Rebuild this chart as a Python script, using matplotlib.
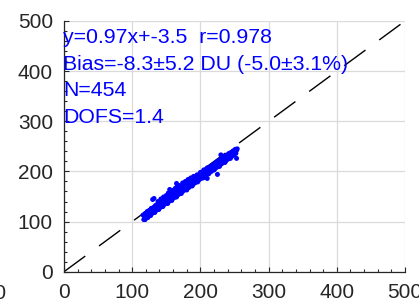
import matplotlib

matplotlib.use("Agg")
from matplotlib import pyplot as plt
from matplotlib.ticker import MultipleLocator

plt.rcParams["font.family"] = ["Liberation Sans", "DejaVu Sans"]
plt.rcParams["lines.scale_dashes"] = False

# scatter values (reference vs retrieved, DU)
band_hi_x = [116, 119, 122, 125, 128, 131, 134, 137, 140, 143, 146, 149, 152, 155, 158, 161,
             164, 167, 170, 173, 176, 179, 182, 185, 188, 191, 194, 197, 200, 203, 206, 209,
             212, 215, 218, 221, 224, 227, 230, 233, 236, 239, 242, 245, 248, 251, 254]
band_hi_y = [113, 116, 120, 122, 126, 128, 132, 135, 138, 141, 143, 147, 150, 152, 156, 158,
             162, 164, 167, 170, 173, 176, 179, 181, 184, 187, 190, 193, 195, 199, 202, 204,
             207, 210, 213, 216, 219, 222, 224, 227, 230, 233, 236, 238, 241, 244, 245]
band_lo_x = [117, 120, 123, 126, 129, 132, 135, 138, 141, 144, 147, 150, 153, 156, 159, 162,
             165, 168, 171, 174, 177, 180, 183, 186, 189, 192, 195, 198, 201, 204, 207, 210,
             213, 216, 219, 222, 225, 228, 231, 234, 237, 240, 243, 246, 249, 252]
band_lo_y = [104, 107, 110, 113, 116, 119, 122, 125, 128, 130, 134, 136, 139, 142, 145, 148,
             151, 154, 157, 160, 163, 165, 168, 171, 174, 177, 180, 183, 186, 189, 192, 195,
             197, 200, 203, 206, 209, 212, 215, 218, 221, 224, 227, 230, 233, 236]
band_mid_x = [118, 121, 124, 127, 130, 133, 136, 139, 142, 145, 148, 151, 154, 157, 160, 163,
              166, 169, 172, 175, 178, 181, 184, 187, 190, 193, 196, 199, 202, 205, 208, 211,
              214, 217, 220, 223, 226, 229, 232, 235, 238, 241, 244, 247, 250, 253]
band_mid_y = [110, 113, 117, 119, 122, 126, 128, 131, 134, 137, 140, 143, 146, 149, 152, 155,
              158, 160, 163, 166, 169, 172, 175, 178, 181, 184, 187, 190, 192, 195, 198, 201,
              204, 207, 210, 213, 216, 219, 222, 224, 227, 230, 233, 236, 239, 242]
upper_x = [120, 124, 128, 138, 142, 146, 150, 153, 156, 160, 163, 166, 170, 174, 178, 182,
           186, 190, 195, 200, 205, 210, 158, 168, 176, 184]
upper_y = [116, 121, 126, 140, 145, 149, 152, 157, 158, 162, 166, 170, 172, 177, 180, 184,
           187, 190, 193, 198, 203, 207, 157, 168, 176, 183]
lower_x = [119, 123, 127, 133, 139, 145, 152, 158, 165, 172, 180, 188, 196, 204, 212, 220,
           228, 236, 244]
lower_y = [104, 108, 112, 118, 124, 130, 136, 142, 149, 156, 163, 171, 179, 187, 195, 203,
           210, 218, 226]
outlier_x = [130, 132, 155, 165, 210, 225, 230, 236, 253]
outlier_y = [144, 146, 164, 176, 186, 194, 233, 219, 226]

ref_line = [0, 500]
stats_lines = [
    "y=0.97x+-3.5  r=0.978",
    "Bias=-8.3\u00b15.2 DU (-5.0\u00b13.1%)",
    "N=454",
    "DOFS=1.4",
]
ticks = [0, 100, 200, 300, 400, 500]

fig = plt.figure(figsize=(4.19, 3.02), dpi=100)
ax = fig.add_axes([64 / 419, 30.3 / 302, 341 / 419, 250.7 / 302])

ax.plot(ref_line, ref_line, color="black", linewidth=1.0, dashes=(19, 12.3), zorder=2)
xs = band_hi_x + band_lo_x + band_mid_x + upper_x + lower_x + outlier_x
ys = band_hi_y + band_lo_y + band_mid_y + upper_y + lower_y + outlier_y
ax.scatter(xs, ys, s=13, color="#0000ff", edgecolors="none", zorder=3)

ax.set_xlim(0, 500)
ax.set_ylim(0, 500)
ax.set_xticks(ticks)
ax.set_yticks(ticks)
ax.xaxis.set_minor_locator(MultipleLocator(20))
ax.yaxis.set_minor_locator(MultipleLocator(20))
ax.grid(True, which="major", color="#dadada", linewidth=0.9, zorder=0)
ax.set_axisbelow(True)
ax.spines["top"].set_visible(False)
ax.spines["right"].set_visible(False)
for side in ("left", "bottom"):
    ax.spines[side].set_color("#262626")
    ax.spines[side].set_linewidth(0.9)
ax.tick_params(which="both", direction="in", colors="#262626", width=0.8,
               labelsize=15, pad=8, labelcolor="#262626")
ax.tick_params(which="major", length=3.5)
ax.tick_params(which="minor", length=2.5)

for i, line in enumerate(stats_lines):
    fig.text(63 / 419, (302 - 43 - i * 26.7) / 302, line,
             color="#0000ff", fontsize=15.3, ha="left", va="baseline")

# tail of the neighbouring panel's tick label at the left edge
fig.text(6 / 419, 3 / 302, "500", fontsize=15, color="#262626", ha="right", va="baseline")

fig.savefig("out.png", dpi=100)
